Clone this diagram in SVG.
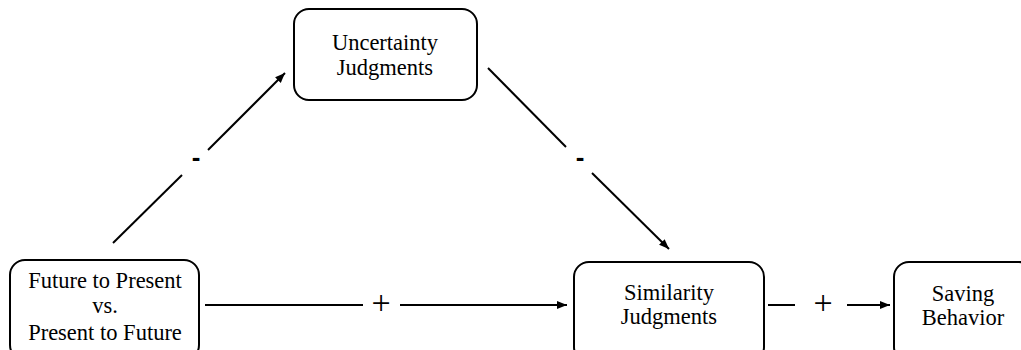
<svg xmlns="http://www.w3.org/2000/svg" width="1021" height="350" viewBox="0 0 1021 350">
<defs>
<style>
.box{fill:#fff;stroke:#000;stroke-width:2}
.t{font-family:"Liberation Serif","Times New Roman",serif;font-size:22.5px;fill:#000;text-anchor:middle}
.sign{font-family:"Liberation Serif","Times New Roman",serif;font-size:34px;fill:#000;text-anchor:middle}
.minus{font-family:"Liberation Sans",Arial,sans-serif;font-size:26px;font-weight:bold;fill:#000;text-anchor:middle}
.ln{stroke:#000;stroke-width:2;fill:none}
</style>
<marker id="ah" viewBox="0 0 10 10" refX="10" refY="5" markerWidth="5" markerHeight="5" markerUnits="strokeWidth" orient="auto">
<path d="M0,1 L10,5 L0,9 Z" fill="#000"/>
</marker>
</defs>
<rect width="1021" height="350" fill="#fff"/>
<g id="connectors">
<line class="ln" x1="113" y1="243" x2="182" y2="175"/>
<line class="ln" x1="208" y1="150" x2="285" y2="73" marker-end="url(#ah)"/>
<text class="minus" x="196" y="166">-</text>
<line class="ln" x1="488" y1="68" x2="566" y2="147"/>
<line class="ln" x1="592" y1="173" x2="669" y2="249" marker-end="url(#ah)"/>
<text class="minus" x="580" y="166">-</text>
<line class="ln" x1="205" y1="305" x2="363" y2="305"/>
<line class="ln" x1="400" y1="305" x2="567" y2="305" marker-end="url(#ah)"/>
<text class="sign" x="381" y="314">+</text>
<line class="ln" x1="768" y1="305" x2="795" y2="305"/>
<line class="ln" x1="847" y1="305" x2="890" y2="305" marker-end="url(#ah)"/>
<text class="sign" x="823" y="314">+</text>
</g>
<g id="uncertainty">
<rect class="box" x="294" y="9" width="183" height="91" rx="15"/>
<text class="t" x="385" y="50">Uncertainty</text>
<text class="t" x="385" y="75">Judgments</text>
</g>
<g id="future">
<rect class="box" x="10" y="260" width="189" height="100" rx="15"/>
<text class="t" x="105" y="288">Future to Present</text>
<text class="t" x="105" y="313">vs.</text>
<text class="t" x="105" y="340">Present to Future</text>
</g>
<g id="similarity">
<rect class="box" x="574" y="262" width="190" height="100" rx="15"/>
<text class="t" x="669" y="300">Similarity</text>
<text class="t" x="669" y="324">Judgments</text>
</g>
<g id="saving">
<rect class="box" x="894" y="262" width="140" height="100" rx="15"/>
<text class="t" x="963" y="301">Saving</text>
<text class="t" x="963" y="325">Behavior</text>
</g>
</svg>
